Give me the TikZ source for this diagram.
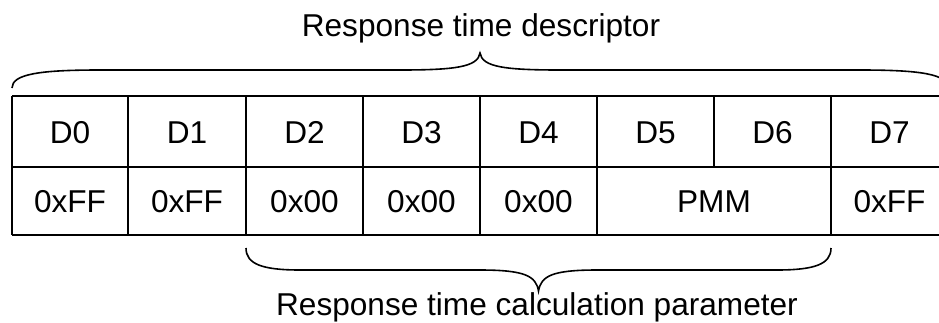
\documentclass[tikz,border=0pt]{standalone}
\usepackage{fontspec}
\setmainfont{Liberation Sans}
\begin{document}
\begin{tikzpicture}[x=1pt,y=-1pt,
  txt/.style={inner sep=0pt,anchor=base,font=\fontsize{31.6}{38}\selectfont},
  grid/.style={line width=2pt},
  brace/.style={line width=1.6pt}]
\useasboundingbox (0,0) rectangle (939,322);
\begin{scope}
\clip (0,0) rectangle (939,322);
% table lines
\draw[grid] (12,96) -- (939,96);
\draw[grid] (12,167) -- (939,167);
\draw[grid] (12,235) -- (939,235);
\foreach \x in {12,128,246,363,480,597,831}
  \draw[grid] (\x,96) -- (\x,235);
\draw[grid] (714,96) -- (714,167);
% top brace
\draw[brace] (12,88) .. controls (12,74) and (40,70) .. (100,70) -- (400,70)
  .. controls (455,70) and (478,67) .. (480,53)
  .. controls (482,67) and (505,70) .. (560,70) -- (860,70)
  .. controls (920,70) and (948,74) .. (948,88);
% bottom brace
\draw[brace] (246,248) .. controls (246,264) and (262,270) .. (300,270) -- (480,270)
  .. controls (525,270) and (536,276) .. (538.5,291)
  .. controls (541,276) and (552,270) .. (597,270) -- (777,270)
  .. controls (815,270) and (831,264) .. (831,248);
\end{scope}
% labels
\node[txt] (title) at (481,36) {Response time descriptor};
\node[txt] (sub) at (537,315) {Response time calculation parameter};
% header row
\node[txt] (d0) at (70,143) {D0};
\node[txt] (d1) at (187,143) {D1};
\node[txt] (d2) at (304.5,143) {D2};
\node[txt] (d3) at (421.5,143) {D3};
\node[txt] (d4) at (538.5,143) {D4};
\node[txt] (d5) at (655.5,143) {D5};
\node[txt] (d6) at (772.5,143) {D6};
\node[txt] (d7) at (889.5,143) {D7};
% value row
\node[txt] (v0) at (70,212) {0xFF};
\node[txt] (v1) at (187,212) {0xFF};
\node[txt] (v2) at (304.5,212) {0x00};
\node[txt] (v3) at (421.5,212) {0x00};
\node[txt] (v4) at (538.5,212) {0x00};
\node[txt] (v5) at (714,212) {PMM};
\node[txt] (v7) at (889.5,212) {0xFF};
\end{tikzpicture}
\end{document}
